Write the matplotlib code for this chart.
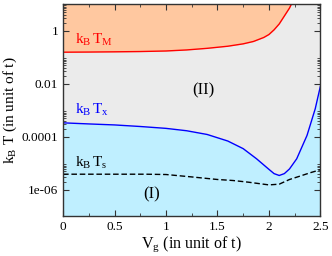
"""Phase diagram kB T vs Vg (log scale) with three regions."""
import matplotlib
matplotlib.use('Agg')
import matplotlib.pyplot as plt
from matplotlib.ticker import FixedLocator, FixedFormatter

plt.rcParams['font.family'] = ['Liberation Serif', 'DejaVu Serif']
plt.rcParams['mathtext.fontset'] = 'stix'

# red: kB T_M
V_M = [0.0, 0.25, 0.5, 0.75, 1.0, 1.2, 1.4, 1.6, 1.75, 1.85, 1.95, 2.0,
       2.05, 2.1, 2.15, 2.2, 2.25]
T_M = [0.153, 0.155, 0.158, 0.162, 0.17, 0.186, 0.214, 0.257, 0.316, 0.389,
       0.55, 0.71, 1.07, 1.78, 3.55, 7.1, 17.8]

# blue: kB T_x
V_x = [0.0, 0.25, 0.5, 0.75, 1.0, 1.2, 1.4, 1.6, 1.75, 1.88, 2.0, 2.05,
       2.1, 2.15, 2.2, 2.27, 2.37, 2.45, 2.5]
T_x = [3.3e-4, 3.0e-4, 2.75e-4, 2.4e-4, 2.04e-4, 1.66e-4, 1.2e-4, 6.8e-5,
       3.5e-5, 1.45e-5, 5.8e-6, 4.0e-6, 3.4e-6, 4.0e-6, 6.0e-6, 1.45e-5,
       1.1e-4, 1.12e-3, 7.9e-3]

# dashed: kB T_s
V_s = [0.0, 0.5, 0.8, 1.0, 1.25, 1.5, 1.65, 1.8, 2.0, 2.1, 2.2, 2.3, 2.4, 2.5]
T_s = [3.8e-6, 3.8e-6, 3.8e-6, 3.7e-6, 3.0e-6, 2.4e-6, 2.2e-6, 1.9e-6,
       1.5e-6, 1.6e-6, 2.4e-6, 3.2e-6, 4.3e-6, 5.6e-6]

x_ticks = [0, 0.5, 1, 1.5, 2, 2.5]
x_labels = ['0', '0.5', '1', '1.5', '2', '2.5']
y_ticks = [1e-6, 1e-4, 1e-2, 1]
y_labels = ['1e-06', '0.0001', '0.01', '1']
y_min, y_max = 1e-7, 10

fig = plt.figure(figsize=(3.32, 2.56), dpi=100)
ax = fig.add_axes([0.19, 0.156, 0.775, 0.828])
ax.set_yscale('log')

ax.fill_between(V_x, y_min, T_x, color='#BFEFFF', lw=0)
ax.fill_between(V_x, T_x, y_max * 10, color='#EBEBEB', lw=0)
ax.fill_between(V_M, T_M, y_max * 10, color='#FFC8A0', lw=0)

ax.plot(V_M, T_M, color='#FF0000', lw=1.0)
ax.plot(V_x, T_x, color='#0000FF', lw=1.0)
ax.plot(V_s, T_s, color='black', lw=1.0, ls=(0, (4, 2)))

ax.text(0.12, 0.45, r'$\mathregular{k_B\,T_M}$', color='#FF0000',
        fontsize=11, va='center')
ax.text(0.12, 1.0e-3, r'$\mathregular{k_B\,T_x}$', color='#0000FF',
        fontsize=11, va='center')
ax.text(0.12, 1.0e-5, r'$\mathregular{k_B\,T_s}$', color='black',
        fontsize=11, va='center')
ax.text(1.36, 5.3e-3, '(II)', fontsize=12, ha='center', va='center')
ax.text(0.86, 6.3e-7, '(I)', fontsize=12, ha='center', va='center')

ax.set_xlim(0, 2.5)
ax.set_ylim(y_min, y_max)
ax.xaxis.set_major_locator(FixedLocator(x_ticks))
ax.xaxis.set_major_formatter(FixedFormatter(x_labels))
ax.xaxis.set_minor_locator(FixedLocator([0.25, 0.75, 1.25, 1.75, 2.25]))
ax.yaxis.set_major_locator(FixedLocator(y_ticks))
ax.yaxis.set_major_formatter(FixedFormatter(y_labels))
minor = [k * 10.0 ** e for e in (-6, -4, -2, 0) for k in range(2, 10)]
ax.yaxis.set_minor_locator(FixedLocator(minor))
ax.yaxis.set_minor_formatter(FixedFormatter([''] * len(minor)))

ax.tick_params(which='both', direction='in', top=True, right=True,
               labelsize=9.5, color='#333333')
ax.tick_params(which='major', length=4)
ax.tick_params(which='minor', length=2)
for s in ax.spines.values():
    s.set_linewidth(1.0)
    s.set_color('#333333')

ax.set_xlabel(r'$\mathregular{V_g}$ (in unit of t)', fontsize=11.5, labelpad=1)
ax.set_ylabel(r'$\mathregular{k_B}$ T (in unit of t)', fontsize=11, labelpad=2)

fig.savefig('out.png', dpi=100)
